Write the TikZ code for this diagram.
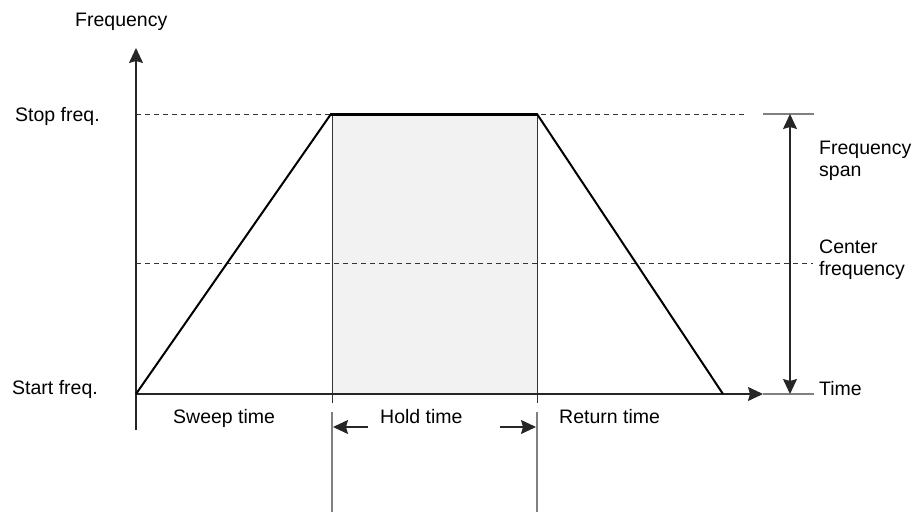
\documentclass[tikz,border=0pt]{standalone}
\usepackage{fontspec}
\setmainfont{Liberation Sans}
\usetikzlibrary{arrows.meta}
\begin{document}
\begin{tikzpicture}[x=1pt,y=-1pt,
  lbl/.style={inner sep=0pt, font=\fontsize{19.5}{22}\selectfont},
  axisline/.style={draw=black!85, line width=1.3pt},
  bigtip/.style={-{Stealth[length=15pt,width=14pt,inset=2pt]}},
  bothtip/.style={{Stealth[length=15pt,width=14pt,inset=2pt]}-{Stealth[length=15pt,width=14pt,inset=2pt]}},
  guide/.style={draw=black!50, line width=1.3pt},
  inner/.style={draw=black!80, line width=0.8pt},
  dashline/.style={draw=black!80, line width=0.8pt, dash pattern=on 5pt off 4pt},
  ramp/.style={draw=black, line width=2pt, line join=miter},
  holdfill/.style={fill=black!5, draw=none}
]
\useasboundingbox (0,0) rectangle (916,514);
% coordinates
\coordinate (O) at (136,394);
\coordinate (Ytop) at (136,48);
\coordinate (Ybot) at (136,430);
\coordinate (Xtip) at (763,394);
\coordinate (Xend) at (814,394);
\coordinate (A) at (331,114);
\coordinate (B) at (537,114);
\coordinate (E) at (723,394);
\coordinate (S0) at (136,114);
\coordinate (S1) at (745,114);
\coordinate (C0) at (136,263);
\coordinate (C1) at (813,263);
\coordinate (T0) at (763,114);
\coordinate (T1) at (814,114);
\coordinate (P1) at (790,114);
\coordinate (P2) at (790,394);
\coordinate (V1a) at (332,114);
\coordinate (V1b) at (332,403);
\coordinate (V1c) at (332,412);
\coordinate (V1d) at (332,512);
\coordinate (V2a) at (537,114);
\coordinate (V2b) at (537,403);
\coordinate (V2c) at (537,412);
\coordinate (V2d) at (537,512);
\coordinate (H1t) at (368,427);
\coordinate (H1h) at (333,427);
\coordinate (H2t) at (500,427);
\coordinate (H2h) at (536,427);
% shading
\fill[holdfill] (V1a) rectangle (V2b |- O);
% dashed levels
\draw[dashline] (S0) -- (S1);
\draw[dashline] (C0) -- (C1);
% vertical hold lines
\draw[inner] (V1a) -- (V1b);
\draw[inner] (V2a) -- (V2b);
\draw[guide] (V1c) -- (V1d);
\draw[guide] (V2c) -- (V2d);
% axes
\draw[axisline, bigtip] (Ybot) -- (Ytop);
\draw[axisline, bigtip] (O) -- (Xtip);
\draw[guide] (Xtip) -- (Xend);
% span
\draw[guide] (T0) -- (T1);
\draw[axisline, bothtip] (P1) -- (P2);
% ramp
\draw[ramp] (O) -- (A) -- (B) -- (E);
\draw[draw=black, line width=3pt] (A) -- (B);
% hold arrows
\draw[axisline, bigtip] (H1t) -- (H1h);
\draw[axisline, bigtip] (H2t) -- (H2h);
% labels
\node[lbl, anchor=base west] (lfreq) at (75,26) {Frequency};
\node[lbl, anchor=base west] (lstop) at (15,121) {Stop freq.};
\node[lbl, anchor=base west] (lstart) at (12,394) {Start freq.};
\node[lbl, anchor=base west] (lsweep) at (173,423) {Sweep time};
\node[lbl, anchor=base west] (lhold) at (380,423) {Hold time};
\node[lbl, anchor=base west] (lret) at (559,423) {Return time};
\node[lbl, anchor=base west] (ltime) at (819,395) {Time};
\node[lbl, anchor=base west, align=left] (lspan1) at (819,154) {Frequency};
\node[lbl, anchor=base west] (lspan2) at (819,176) {span};
\node[lbl, anchor=base west] (lcen1) at (819,253) {Center};
\node[lbl, anchor=base west] (lcen2) at (819,275) {frequency};
\end{tikzpicture}
\end{document}
